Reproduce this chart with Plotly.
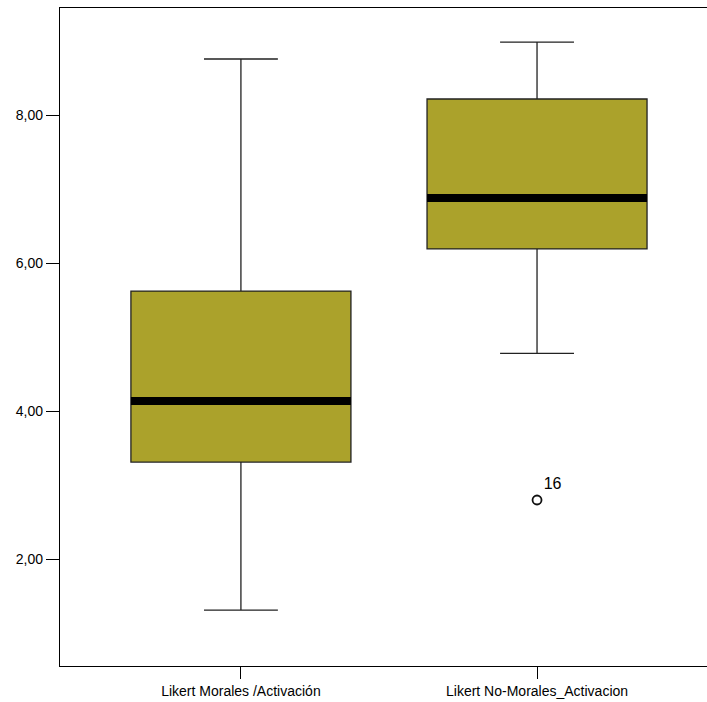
import plotly.graph_objects as go

categories = ["Likert Morales /Activación", "Likert No-Morales_Activacion"]
q1 = [3.31, 6.19]
median = [4.135, 6.878]
q3 = [5.62, 8.216]
lower_fence = [1.31, 4.78]
upper_fence = [8.757, 8.986]
outlier_cat = ["Likert No-Morales_Activacion"]
outlier_val = [2.797]
outlier_lbl = ["16"]

box_w = 0.743
fill = "#ABA22B"

fig = go.Figure()
fig.add_trace(go.Box(
    x=categories, q1=q1, median=median, q3=q3,
    lowerfence=lower_fence, upperfence=upper_fence,
    width=box_w, whiskerwidth=0.336,
    fillcolor=fill, line=dict(color="#222222", width=1.3),
    boxpoints=False, showlegend=False, hoverinfo="skip",
))
fig.add_trace(go.Scatter(
    x=outlier_cat, y=outlier_val, mode="markers+text",
    marker=dict(symbol="circle-open", size=9, color="#111111", line=dict(width=1.8)),
    text=outlier_lbl, textposition="top right",
    textfont=dict(family="Liberation Sans, Arial", size=16, color="#000000"),
    showlegend=False, hoverinfo="skip",
))
for i, m in enumerate(median):
    fig.add_shape(type="line", xref="x", yref="y",
                  x0=i - box_w / 2, x1=i + box_w / 2, y0=m, y1=m,
                  line=dict(color="black", width=8), layer="above")

fig.update_layout(
    width=707, height=702,
    margin=dict(l=60, r=0, t=8, b=36),
    paper_bgcolor="white", plot_bgcolor="white",
    separators=",.",
    font=dict(family="Liberation Sans, Arial", size=14, color="#000000"),
    xaxis=dict(type="category", range=[-0.611, 1.574], showgrid=False,
               showline=True, linecolor="black", linewidth=1.3, mirror=True,
               ticks="outside", ticklen=12, tickcolor="black", tickwidth=1.3,
               tickfont=dict(size=14), automargin=False),
    yaxis=dict(range=[0.554, 9.446], showgrid=False, zeroline=False,
               showline=True, linecolor="black", linewidth=1.3,
               ticks="outside", ticklen=13, tickcolor="black", tickwidth=1.3,
               tickvals=[2, 4, 6, 8], tickformat=".2f",
               tickfont=dict(size=14), automargin=False),
)
fig.write_html("out.html", config={"displayModeBar": False},
               post_script="document.body.style.margin='0';document.body.style.padding='0';")
